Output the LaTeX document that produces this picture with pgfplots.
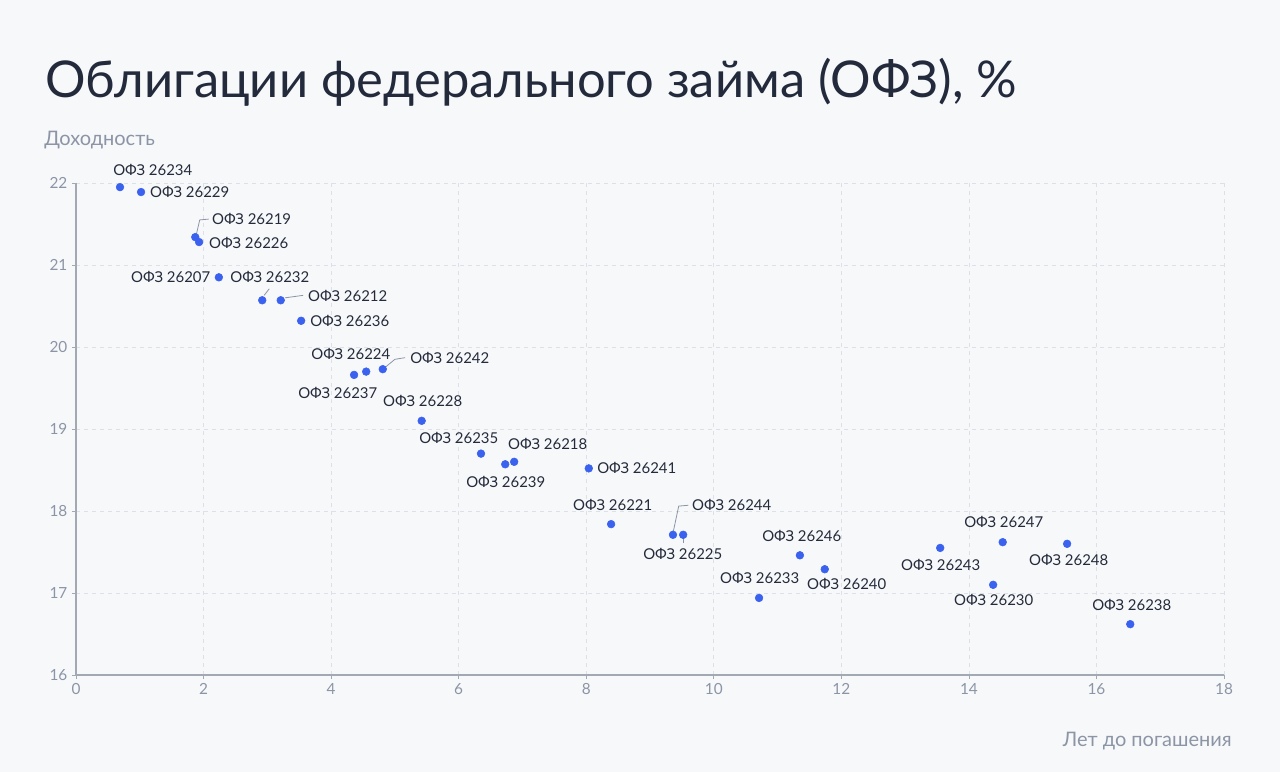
\documentclass[border=0pt]{standalone}
\usepackage{fontspec}
\setmainfont{Lato}
\usepackage{pgfplots}
\usepackage{pgfplotstable}
\pgfplotsset{compat=1.18}
\definecolor{bg}{HTML}{F7F8FA}
\definecolor{titlec}{HTML}{222A3C}
\definecolor{greyc}{HTML}{8C95A5}
\definecolor{axisc}{HTML}{A3A9B3}
\definecolor{gridc}{HTML}{DDE1E7}
\definecolor{dotc}{HTML}{3A62EE}
\definecolor{labc}{HTML}{252B3B}

% years to maturity, yield
\pgfplotstableread{
x y
0.69 21.95
1.02 21.89
1.87 21.34
1.93 21.28
2.24 20.85
2.92 20.57
3.21 20.57
3.53 20.32
4.36 19.66
4.55 19.70
4.81 19.73
5.42 19.10
6.35 18.70
6.73 18.57
6.87 18.60
8.04 18.52
8.39 17.84
9.36 17.71
9.52 17.71
10.71 16.94
11.35 17.46
11.74 17.29
13.55 17.55
14.38 17.10
14.53 17.62
15.54 17.60
16.53 16.62
}\ofz

\begin{document}
\begin{tikzpicture}[lab/.style={anchor=west, inner sep=0, text=labc, font=\fontsize{11.2}{13}\selectfont}]
\fill[bg] (0,0) rectangle (960pt,-579pt);
\node[anchor=base west, inner sep=0, text=titlec, font=\fontsize{38}{46}\selectfont]
  at (45*0.75pt,-97*0.75pt) {Облигации федерального займа (ОФЗ), \%};
\node[anchor=base west, inner sep=0, text=greyc, font=\fontsize{15}{18}\selectfont]
  at (44*0.75pt,-145*0.75pt) {Доходность};
\node[anchor=base east, inner sep=0, text=greyc, font=\fontsize{15}{18}\selectfont]
  at (1232*0.75pt,-746*0.75pt) {Лет до погашения};
\begin{axis}[
  at={(76*0.75pt,-675*0.75pt)}, anchor=south west,
  scale only axis, width=861pt, height=369pt,
  xmin=0, xmax=18, ymin=16, ymax=22,
  xtick={0,2,...,18}, ytick={16,17,...,22},
  axis x line=bottom, axis y line=left,
  axis line style={-, axisc, line width=0.8pt},
  tick align=outside, major tick length=3pt,
  tick style={axisc, line width=0.6pt},
  grid=major, grid style={gridc, dashed, line width=0.6pt},
  tick label style={greyc, font=\fontsize{11.5}{13}\selectfont},
  /pgf/number format/assume math mode=true,
  clip=false,
]
\addplot[only marks, mark=*, mark size=2.9pt, mark options={fill=dotc, draw=dotc}] table {\ofz};
% leader lines
\draw[greyc, line width=0.6pt] (axis cs:1.88,21.35) -- (axis cs:1.94,21.55) -- (axis cs:2.08,21.56);
\draw[greyc, line width=0.6pt] (axis cs:2.95,20.63) -- (axis cs:3.03,20.71);
\draw[greyc, line width=0.6pt] (axis cs:3.28,20.60) -- (axis cs:3.56,20.63);
\draw[greyc, line width=0.6pt] (axis cs:4.86,19.76) -- (axis cs:5.00,19.85) -- (axis cs:5.16,19.87);
\draw[greyc, line width=0.6pt] (axis cs:9.36,17.73) -- (axis cs:9.45,18.06) -- (axis cs:9.60,18.07);
\draw[greyc, line width=0.6pt] (axis cs:9.53,17.67) -- (axis cs:9.53,17.61);
% labels
\node[lab] at (axis cs:0.58,22.159) {ОФЗ 26234};
\node[lab] at (axis cs:1.16,21.89) {ОФЗ 26229};
\node[lab] at (axis cs:2.13,21.56) {ОФЗ 26219};
\node[lab] at (axis cs:2.085,21.27) {ОФЗ 26226};
\node[lab] at (axis cs:0.862,20.85) {ОФЗ 26207};
\node[lab] at (axis cs:2.415,20.85) {ОФЗ 26232};
\node[lab] at (axis cs:3.637,20.62) {ОФЗ 26212};
\node[lab] at (axis cs:3.669,20.317) {ОФЗ 26236};
\node[lab] at (axis cs:3.685,19.915) {ОФЗ 26224};
\node[lab] at (axis cs:5.237,19.866) {ОФЗ 26242};
\node[lab] at (axis cs:3.481,19.439) {ОФЗ 26237};
\node[lab] at (axis cs:4.813,19.341) {ОФЗ 26228};
\node[lab] at (axis cs:5.378,18.89) {ОФЗ 26235};
\node[lab] at (axis cs:6.773,18.817) {ОФЗ 26218};
\node[lab] at (axis cs:6.115,18.354) {ОФЗ 26239};
\node[lab] at (axis cs:8.169,18.524) {ОФЗ 26241};
\node[lab] at (axis cs:7.792,18.073) {ОФЗ 26221};
\node[lab] at (axis cs:9.658,18.073) {ОФЗ 26244};
\node[lab] at (axis cs:8.890,17.476) {ОФЗ 26225};
\node[lab] at (axis cs:10.756,17.695) {ОФЗ 26246};
\node[lab] at (axis cs:10.097,17.183) {ОФЗ 26233};
\node[lab] at (axis cs:11.461,17.110) {ОФЗ 26240};
\node[lab] at (axis cs:12.935,17.341) {ОФЗ 26243};
\node[lab] at (axis cs:13.923,17.866) {ОФЗ 26247};
\node[lab] at (axis cs:13.766,16.915) {ОФЗ 26230};
\node[lab] at (axis cs:14.942,17.402) {ОФЗ 26248};
\node[lab] at (axis cs:15.930,16.854) {ОФЗ 26238};
\end{axis}
\end{tikzpicture}
\end{document}
